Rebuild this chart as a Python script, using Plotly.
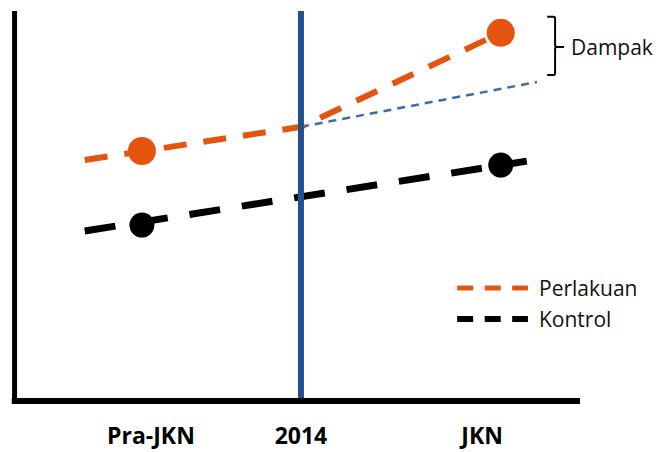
import plotly.graph_objects as go

# --- data (arbitrary outcome / time units) ---
period_ticks = [2.42, 5.07, 8.27]
period_labels = ["Pra-JKN", "2014", "JKN"]
policy_x = 5.07

treat_line_x = [1.25, 5.07, 8.60]
treat_line_y = [6.18, 7.03, 9.44]
treat_pts_x = [2.26, 8.60]
treat_pts_y = [6.41, 9.44]

ctrl_line_x = [1.25, 9.06]
ctrl_line_y = [4.36, 6.15]
ctrl_pts_x = [2.26, 8.60]
ctrl_pts_y = [4.51, 6.05]

counterfactual_x = [5.07, 9.24]
counterfactual_y = [7.03, 8.18]

ORANGE = "#E4540F"
BLACK = "#000000"
BLUE = "#24508C"
BLUE_CF = "#3D6BA8"
FONT = "Open Sans"

fig = go.Figure()

# counterfactual trend for the treated group
fig.add_trace(go.Scatter(x=counterfactual_x, y=counterfactual_y, mode="lines",
                         line=dict(color=BLUE_CF, width=2.5, dash="8px,6px"),
                         hoverinfo="skip"))
# control group
fig.add_trace(go.Scatter(x=ctrl_line_x, y=ctrl_line_y, mode="lines",
                         line=dict(color=BLACK, width=7, dash="31px,22px"),
                         hoverinfo="skip"))
fig.add_trace(go.Scatter(x=ctrl_pts_x, y=ctrl_pts_y, mode="markers",
                         marker=dict(color=BLACK, size=25), hoverinfo="skip"))
# treated group
fig.add_trace(go.Scatter(x=treat_line_x, y=treat_line_y, mode="lines",
                         line=dict(color=ORANGE, width=6, dash="23px,17px"),
                         hoverinfo="skip"))
fig.add_trace(go.Scatter(x=treat_pts_x, y=treat_pts_y, mode="markers",
                         marker=dict(color=ORANGE, size=28), hoverinfo="skip"))

shapes = []
# policy start line
shapes.append(dict(type="line", xref="x", yref="y", x0=policy_x, x1=policy_x,
                   y0=0, y1=10, line=dict(color=BLUE, width=6), layer="above"))
# axes
shapes.append(dict(type="line", xref="paper", yref="paper", x0=0.001, x1=0.001,
                   y0=-0.008, y1=1, line=dict(color=BLACK, width=5)))
shapes.append(dict(type="line", xref="paper", yref="paper", x0=-0.004, x1=1,
                   y0=0, y1=0, line=dict(color=BLACK, width=6)))
# impact bracket
shapes.append(dict(type="path", xref="x", yref="y",
                   path="M 9.42 9.85 L 9.53 9.85 Q 9.56 9.85 9.56 9.80 L 9.56 9.12 "
                        "Q 9.56 9.08 9.60 9.08 L 9.72 9.08 M 9.60 9.08 "
                        "Q 9.56 9.08 9.56 9.04 L 9.56 8.41 Q 9.56 8.36 9.53 8.36 L 9.42 8.36",
                   line=dict(color=BLACK, width=2)))
# legend samples
shapes.append(dict(type="line", xref="x", yref="y", x0=7.83, x1=9.08, y0=2.90, y1=2.90,
                   line=dict(color=ORANGE, width=5, dash="16px,11.5px")))
shapes.append(dict(type="line", xref="x", yref="y", x0=7.83, x1=9.08, y0=2.10, y1=2.10,
                   line=dict(color=BLACK, width=6, dash="16px,11.5px")))

annotations = [
    dict(x=9.81, y=9.08, xref="x", yref="y", text="Dampak", showarrow=False,
         xanchor="left", yanchor="middle", font=dict(family=FONT, size=21, color="#111")),
    dict(x=9.24, y=2.90, xref="x", yref="y", text="Perlakuan", showarrow=False,
         xanchor="left", yanchor="middle", font=dict(family=FONT, size=21, color="#111")),
    dict(x=9.24, y=2.10, xref="x", yref="y", text="Kontrol", showarrow=False,
         xanchor="left", yanchor="middle", font=dict(family=FONT, size=21, color="#111")),
]

fig.update_layout(
    width=658, height=452,
    margin=dict(l=14, r=78, t=11, b=51),
    paper_bgcolor="white", plot_bgcolor="white",
    showlegend=False,
    shapes=shapes,
    annotations=annotations,
    xaxis=dict(range=[0, 10], showgrid=False, zeroline=False, showline=False,
               automargin=False,
               tickvals=period_ticks, ticktext=period_labels,
               ticks="outside", ticklen=14, tickcolor="rgba(0,0,0,0)",
               tickfont=dict(family=FONT, size=23, color=BLACK, weight="bold")),
    yaxis=dict(range=[0, 10], showgrid=False, zeroline=False, showline=False,
               automargin=False, showticklabels=False, ticks=""),
)

fig.write_html("out.html")
